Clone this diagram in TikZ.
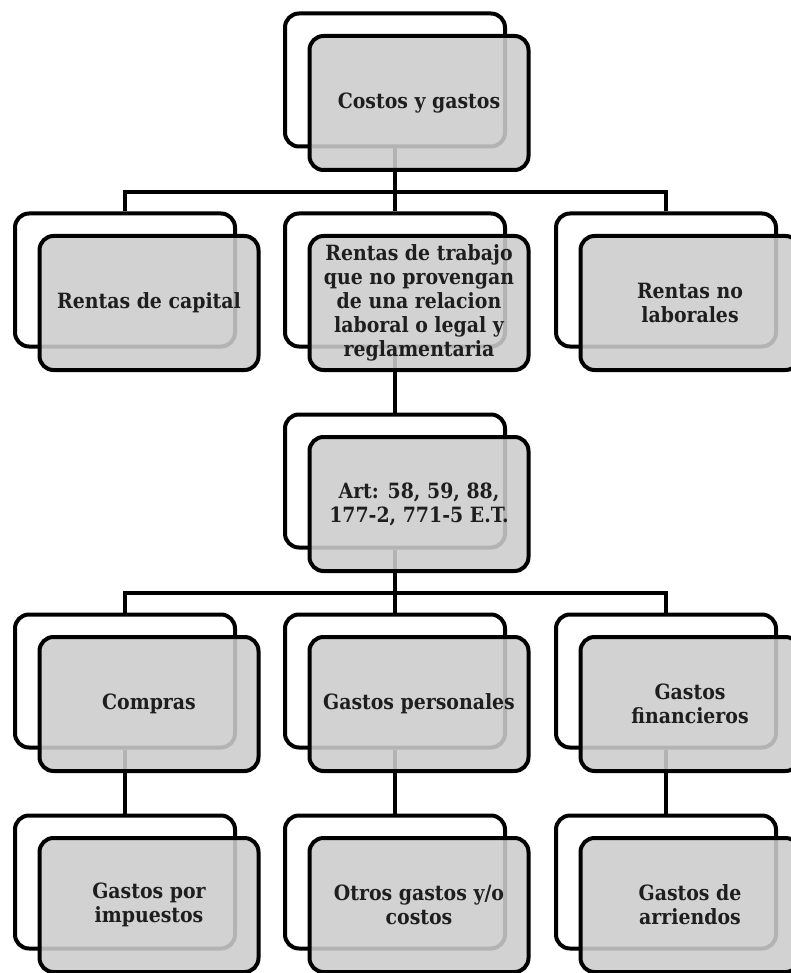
\documentclass[tikz,border=0pt]{standalone}
\usepackage{fontspec}
\setmainfont{DejaVu Serif Condensed}
\definecolor{boxgray}{RGB}{204,204,204}
\definecolor{txt}{RGB}{30,30,30}
\tikzset{
  backbox/.style={draw=black, line width=4pt, rounded corners=14pt, fill=white,
    minimum width=220pt, minimum height=133pt, inner sep=0pt},
  frontbox/.style={draw=black, line width=4pt, rounded corners=14pt, fill=boxgray,
    fill opacity=0.88, text opacity=1, minimum width=219pt, minimum height=134pt,
    inner sep=1pt, align=center, text=txt,
    font=\fontsize{21}{24}\selectfont\bfseries},
  link/.style={draw=black, line width=4pt}
}
\begin{document}
\begin{tikzpicture}[x=1pt,y=-1pt]
\useasboundingbox (0,0) rectangle (791,973);
% back boxes
\node[backbox] (b1) at (395,80) {};
\node[backbox] (b2a) at (125,280) {};
\node[backbox] (b2b) at (395,280) {};
\node[backbox] (b2c) at (666,280) {};
\node[backbox] (b3) at (395,481) {};
\node[backbox] (b4a) at (125,681) {};
\node[backbox] (b4b) at (395,681) {};
\node[backbox] (b4c) at (666,681) {};
\node[backbox] (b5a) at (125,882) {};
\node[backbox] (b5b) at (395,882) {};
\node[backbox] (b5c) at (666,882) {};
% connectors
\coordinate (j1) at (395,192.5);
\coordinate (j3) at (395,593);
\draw[link] (b1.south) -- (j1);
\draw[link] (b2a.north) |- (j1) -| (b2c.north);
\draw[link] (j1) -- (b2b.north);
\draw[link] (b2b.south) -- (b3.north);
\draw[link] (b3.south) -- (j3);
\draw[link] (b4a.north) |- (j3) -| (b4c.north);
\draw[link] (j3) -- (b4b.north);
\draw[link] (b4a.south) -- (b5a.north);
\draw[link] (b4b.south) -- (b5b.north);
\draw[link] (b4c.south) -- (b5c.north);
% front boxes
\node[frontbox] (f1) at (419,103) {Costos y gastos};
\node[frontbox] (f2a) at (149,303) {Rentas de capital};
\node[frontbox] (f2b) at (419,303) {Rentas de trabajo\\que no provengan\\de una relacion\\laboral o legal y\\reglamentaria};
\node[frontbox] (f2c) at (690,303) {Rentas no\\laborales};
\node[frontbox] (f3) at (419,504) {Art: 58, 59, 88,\\177-2, 771-5 E.T.};
\node[frontbox] (f4a) at (149,704) {Compras};
\node[frontbox] (f4b) at (419,704) {Gastos personales};
\node[frontbox] (f4c) at (690,704) {Gastos\\financieros};
\node[frontbox] (f5a) at (149,905) {Gastos por\\impuestos};
\node[frontbox] (f5b) at (419,905) {Otros gastos y/o\\costos};
\node[frontbox] (f5c) at (690,905) {Gastos de\\arriendos};
\end{tikzpicture}
\end{document}
